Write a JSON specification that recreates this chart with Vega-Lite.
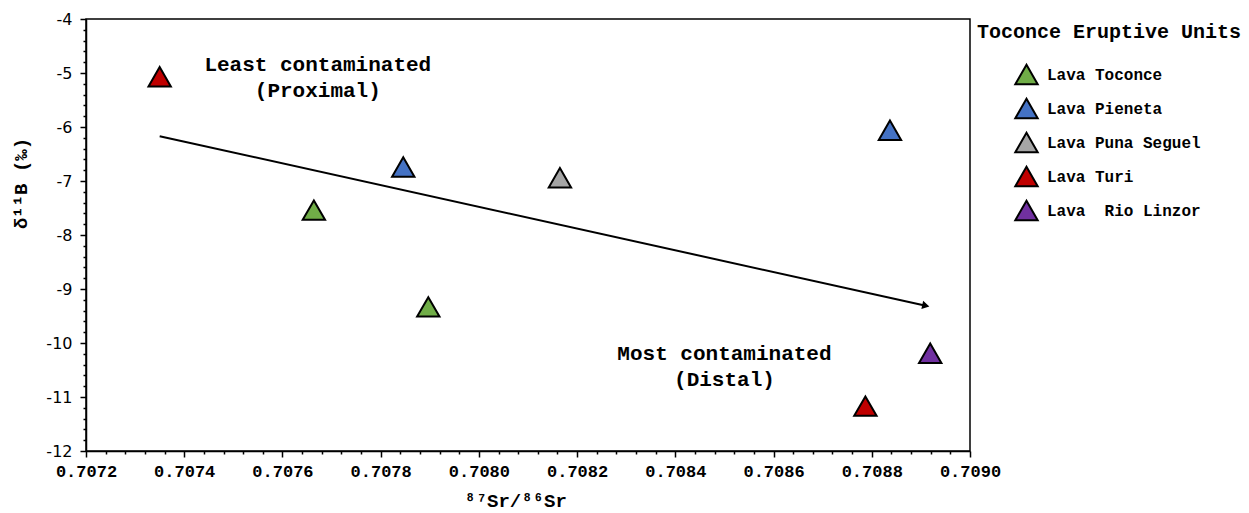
{
  "$schema": "https://vega.github.io/schema/vega-lite/v6.json",
  "width": 884,
  "height": 432,
  "autosize": {"type": "none"},
  "padding": {"left": 86, "top": 19, "right": 279, "bottom": 62},
  "background": "white",
  "datasets": {
    "samples": [
      {"sr": 0.70735, "d11b": -5.07, "unit": "Lava Turi"},
      {"sr": 0.707664, "d11b": -7.54, "unit": "Lava Toconce"},
      {"sr": 0.707846, "d11b": -6.74, "unit": "Lava Pieneta"},
      {"sr": 0.707897, "d11b": -9.33, "unit": "Lava Toconce"},
      {"sr": 0.708165, "d11b": -6.94, "unit": "Lava Puna Seguel"},
      {"sr": 0.708837, "d11b": -6.06, "unit": "Lava Pieneta"},
      {"sr": 0.708787, "d11b": -11.17, "unit": "Lava Turi"},
      {"sr": 0.708919, "d11b": -10.19, "unit": "Lava  Rio Linzor"}
    ],
    "trend": [
      {"sr": 0.70735, "d11b": -6.17},
      {"sr": 0.70891, "d11b": -9.31}
    ],
    "trendHead": [
      {"sr": 0.70891, "d11b": -9.31}
    ],
    "notes": [
      {"sr": 0.707672, "d11b": -4.85, "label": "Least contaminated"},
      {"sr": 0.707672, "d11b": -5.33, "label": "(Proximal)"},
      {"sr": 0.7085, "d11b": -10.2, "label": "Most contaminated"},
      {"sr": 0.7085, "d11b": -10.68, "label": "(Distal)"}
    ]
  },
  "layer": [
    {
      "data": {"name": "trend"},
      "mark": {"type": "line", "color": "black", "strokeWidth": 2},
      "encoding": {
        "x": {
          "field": "sr",
          "type": "quantitative",
          "scale": {"domain": [0.7072, 0.709], "nice": false, "zero": false},
          "axis": {
            "title": "⁸⁷Sr/⁸⁶Sr",
            "titleFont": "Liberation Mono",
            "titleFontWeight": "bold",
            "titleFontSize": 19,
            "titleColor": "black",
            "titleX": 429,
            "titleY": 49,
            "titleBaseline": "middle",
            "tickCount": 200,
            "values": [0.7072, 0.70724, 0.70728, 0.70732, 0.70736, 0.7074, 0.70744, 0.70748, 0.70752, 0.70756, 0.7076, 0.70764, 0.70768, 0.70772, 0.70776, 0.7078, 0.70784, 0.70788, 0.70792, 0.70796, 0.708, 0.70804, 0.70808, 0.70812, 0.70816, 0.7082, 0.70824, 0.70828, 0.70832, 0.70836, 0.7084, 0.70844, 0.70848, 0.70852, 0.70856, 0.7086, 0.70864, 0.70868, 0.70872, 0.70876, 0.7088, 0.70884, 0.70888, 0.70892, 0.70896, 0.709],
            "labelExpr": "abs(datum.value * 5000 - round(datum.value * 5000)) < 0.001 ? format(datum.value, '.4f') : ''",
            "labelOverlap": false,
            "labelFlush": false,
            "labelFont": "Liberation Mono",
            "labelFontWeight": "bold",
            "labelFontSize": 17,
            "labelColor": "black",
            "labelPadding": 6,
            "tickSize": {"condition": {"test": "abs(datum.value * 5000 - round(datum.value * 5000)) < 0.001", "value": 6}, "value": 3},
            "tickColor": "black",
            "tickWidth": 1.5,
            "domainColor": "black",
            "domainWidth": 1.5,
            "grid": false
          }
        },
        "y": {
          "field": "d11b",
          "type": "quantitative",
          "scale": {"domain": [-12, -4], "nice": false, "zero": false},
          "axis": {
            "title": "δ¹¹B  (‰)",
            "titleFont": "Liberation Mono",
            "titleFontWeight": "bold",
            "titleFontSize": 19,
            "titleColor": "black",
            "titleX": -66,
            "titleY": 164,
            "titleBaseline": "middle",
            "tickCount": 200,
            "values": [-12, -11.8, -11.6, -11.4, -11.2, -11, -10.8, -10.6, -10.4, -10.2, -10, -9.8, -9.6, -9.4, -9.2, -9, -8.8, -8.6, -8.4, -8.2, -8, -7.8, -7.6, -7.4, -7.2, -7, -6.8, -6.6, -6.4, -6.2, -6, -5.8, -5.6, -5.4, -5.2, -5, -4.8, -4.6, -4.4, -4.2, -4],
            "labelExpr": "abs(datum.value - round(datum.value)) < 0.001 ? '' + round(datum.value) : ''",
            "labelOverlap": false,
            "labelFlush": false,
            "labelFont": "DejaVu Sans",
            "labelFontSize": 16,
            "labelColor": "black",
            "labelPadding": 8,
            "tickSize": {"condition": {"test": "abs(datum.value - round(datum.value)) < 0.001", "value": 6}, "value": 3},
            "tickColor": "black",
            "tickWidth": 1.5,
            "domainColor": "black",
            "domainWidth": 1.5,
            "grid": false
          }
        }
      }
    },
    {
      "data": {"name": "trendHead"},
      "mark": {"type": "point", "shape": "triangle-right", "filled": true, "color": "black", "opacity": 1, "size": 70, "angle": 12.5},
      "encoding": {
        "x": {"field": "sr", "type": "quantitative"},
        "y": {"field": "d11b", "type": "quantitative"}
      }
    },
    {
      "data": {"name": "samples"},
      "mark": {"type": "point", "shape": "triangle-up", "filled": true, "opacity": 1, "size": 500, "stroke": "black", "strokeWidth": 2},
      "encoding": {
        "x": {"field": "sr", "type": "quantitative"},
        "y": {"field": "d11b", "type": "quantitative"},
        "color": {
          "field": "unit",
          "type": "nominal",
          "scale": {
            "domain": ["Lava Toconce", "Lava Pieneta", "Lava Puna Seguel", "Lava Turi", "Lava  Rio Linzor"],
            "range": ["#70ad47", "#4472c4", "#a5a5a5", "#c00000", "#7030a0"]
          },
          "legend": {
            "title": "Toconce Eruptive Units",
            "orient": "none",
            "legendX": 891,
            "legendY": 3,
            "padding": 0,
            "titleFont": "Liberation Mono",
            "titleFontWeight": "bold",
            "titleFontSize": 20,
            "titleColor": "black",
            "titleLimit": 400,
            "titlePadding": 20,
            "labelFont": "Liberation Mono",
            "labelFontWeight": "bold",
            "labelFontSize": 16,
            "labelColor": "black",
            "labelLimit": 300,
            "labelExpr": "replace(datum.label, '  ', ' \u00a0')",
            "symbolType": "triangle-up",
            "symbolSize": 500,
            "symbolStrokeColor": "black",
            "symbolStrokeWidth": 2,
            "symbolOpacity": 1,
            "symbolOffset": 37,
            "labelOffset": 8,
            "rowPadding": 5
          }
        }
      }
    },
    {
      "data": {"name": "notes"},
      "mark": {"type": "text", "font": "Liberation Mono", "fontWeight": "bold", "fontSize": 21, "color": "black", "align": "center", "baseline": "middle"},
      "encoding": {
        "x": {"field": "sr", "type": "quantitative"},
        "y": {"field": "d11b", "type": "quantitative"},
        "text": {"field": "label"}
      }
    }
  ],
  "config": {
    "view": {"stroke": "black", "strokeWidth": 1.5}
  }
}
